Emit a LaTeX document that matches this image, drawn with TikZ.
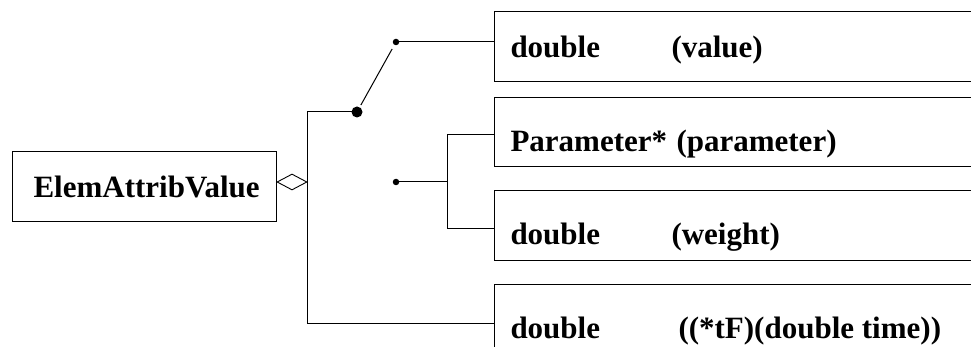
\documentclass[tikz,border=0pt]{standalone}
\usepackage{fontspec}
\setmainfont{Liberation Serif}
\usetikzlibrary{shapes.geometric}
\begin{document}
\begin{tikzpicture}[x=1pt,y=-1pt,
  line width=1pt,
  cls/.style={draw, line width=1.2pt, rectangle, inner sep=0pt, anchor=north west},
  lbl/.style={inner sep=0pt, anchor=base west, font=\fontsize{31}{36}\selectfont\bfseries},
  dotsm/.style={circle, fill=black, inner sep=0pt, minimum size=6.5pt},
  dotlg/.style={circle, fill=black, inner sep=0pt, minimum size=11pt},
  agg/.style={diamond, draw, line width=0.9pt, inner sep=0pt, minimum width=30pt, minimum height=16pt, aspect=1.9}]
\useasboundingbox (0,0) rectangle (971,347);
\clip (0,0) rectangle (971,347);

% owning class
\node[cls, minimum width=264pt, minimum height=70pt] (elem) at (12,151) {};
\node[lbl] (elemtxt) at (33,198) {ElemAttribValue};
\node[agg] (agg) at (292,182) {};

% member boxes (open to the right)
\node[cls, minimum width=520pt, minimum height=70pt] (bval) at (494,11) {};
\node[cls, minimum width=520pt, minimum height=69pt] (bpar) at (494,97) {};
\node[cls, minimum width=520pt, minimum height=70pt] (bwgt) at (494,190) {};
\node[cls, minimum width=520pt, minimum height=70pt] (btf) at (494,284) {};

\node[lbl] (t1a) at (510,58) {double};
\node[lbl] (t1b) at (671,58) {(value)};
\node[lbl] (t2a) at (510,152) {Parameter*};
\node[lbl] (t2b) at (676,152) {(parameter)};
\node[lbl] (t3a) at (510,245) {double};
\node[lbl] (t3b) at (671,245) {(weight)};
\node[lbl] (t4a) at (510,338) {double};
\node[lbl] (t4b) at (678,338) {((*tF)(double time))};

% switch contacts
\node[dotlg] (pivot) at (357,112) {};
\node[dotsm] (cval) at (396,42) {};
\node[dotsm] (cpar) at (396,182) {};
\coordinate (fork) at (447,182);

% connectors
\draw (agg.east) |- (pivot.center);
\draw (agg.east) |- ([yshift=-39pt]btf.north west);
\draw[shorten <=8pt, shorten >=8pt] (pivot.center) -- (cval.center);
\draw (cval.center) -- ([yshift=-31pt]bval.north west);
\draw (cpar.center) -- (fork);
\draw (fork) |- ([yshift=-38pt]bpar.north west);
\draw (fork) |- ([yshift=-39pt]bwgt.north west);
\end{tikzpicture}
\end{document}
